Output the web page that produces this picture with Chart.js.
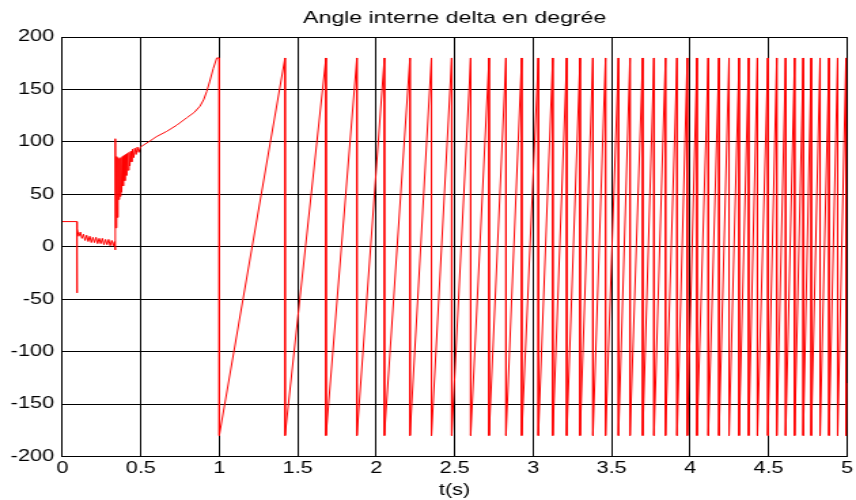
<!DOCTYPE html>
<html>
<head>
<meta charset="utf-8">
<title>Angle interne delta en degrée</title>
<script src="https://cdn.jsdelivr.net/npm/chart.js@4/dist/chart.umd.min.js"></script>
<style>
  html, body { margin: 0; padding: 0; background: #ffffff; overflow: hidden; }
  /* the figure is rendered narrow and widened horizontally, like a stretched export */
  #wrap { width: 630px; height: 500px; transform: scaleX(1.35873); transform-origin: 0 0; }
  #c { display: block; width: 630px; height: 500px; }
</style>
</head>
<body>
<div id="wrap"><canvas id="c" width="630" height="500"></canvas></div>
<script>
// Transient before loss of synchronism (t in s, delta in degrees)
const earlyT = [
  0, 0.092, 0.093, 0.095, 0.105, 0.115, 0.125, 0.135, 0.145, 0.155, 0.165, 0.175,
  0.185, 0.195, 0.205, 0.215, 0.225, 0.235, 0.245, 0.255, 0.265, 0.275, 0.285,
  0.295, 0.305, 0.315, 0.325, 0.333, 0.337, 0.338, 0.341, 0.346, 0.350, 0.355,
  0.359, 0.364, 0.368, 0.373, 0.378, 0.383, 0.388, 0.393, 0.398, 0.403, 0.408,
  0.414, 0.419, 0.425, 0.430, 0.436, 0.442, 0.448, 0.455, 0.462, 0.470, 0.478,
  0.487, 0.497, 0.55, 0.60, 0.665, 0.73, 0.793, 0.84, 0.877, 0.90, 0.92, 0.94,
  0.962, 0.984
];
const earlyDelta = [
  24, 24, -44, 17, 10, 14, 8, 12, 6, 11, 5, 10,
  4, 9, 4, 9, 3, 8, 3, 8, 2, 7, 2,
  7, 1, 6, 1, 5, -3, 103, 18, 86, 28, 85,
  45, 84, 48, 85, 52, 86, 58, 87, 63, 88, 68,
  89, 73, 90, 77, 91, 81, 93, 85, 94, 88, 95,
  90, 95, 100, 105, 110, 116, 123, 128, 134, 140, 148, 158,
  170, 180
];

// Instants where the angle wraps from +180 to -180 (pole slipping)
const wrapTimes = [
  1.000, 1.419, 1.680, 1.877, 2.052, 2.215, 2.352, 2.481, 2.602, 2.719,
  2.827, 2.927, 3.033, 3.125, 3.214, 3.299, 3.381, 3.461, 3.544, 3.617,
  3.698, 3.770, 3.843, 3.917, 3.982, 4.044, 4.116, 4.184, 4.248, 4.312,
  4.373, 4.429, 4.496, 4.552, 4.609, 4.666, 4.721, 4.772, 4.828, 4.885,
  4.940, 4.993
];
const wrapHigh = 180;   // angle just before each wrap
const wrapLow = -180;   // angle just after each wrap
const endT = 5.0;
const endDelta = -130;

const xTicks = [0, 0.5, 1, 1.5, 2, 2.5, 3, 3.5, 4, 4.5, 5];
const yTicks = [-200, -150, -100, -50, 0, 50, 100, 150, 200];

// Assemble the curve: transient, then one ramp per slip ending in a wrap
const points = earlyT.map((t, i) => ({ x: t, y: earlyDelta[i] }));
wrapTimes.forEach(t => {
  points.push({ x: t, y: wrapHigh });
  points.push({ x: t, y: wrapLow });
});
points.push({ x: endT, y: endDelta });

const FONT = "'Liberation Sans', Arial, Helvetica, sans-serif";

new Chart(document.getElementById('c'), {
  type: 'line',
  data: {
    datasets: [{
      data: points,
      borderColor: '#ff0000',
      borderWidth: 1,
      pointRadius: 0,
      tension: 0,
      fill: false
    }]
  },
  options: {
    responsive: false,
    animation: false,
    devicePixelRatio: 1,
    layout: { padding: { left: 0, right: 6.6, top: 0, bottom: 0 } },
    plugins: {
      legend: { display: false },
      tooltip: { enabled: false },
      title: {
        display: true,
        text: 'Angle interne delta en degrée',
        color: '#000',
        fullSize: false,
        font: { family: FONT, size: 17, weight: 'normal', lineHeight: 1.2 },
        padding: { top: 8, bottom: 8.6 }
      }
    },
    scales: {
      x: {
        type: 'linear',
        min: xTicks[0],
        max: xTicks[xTicks.length - 1],
        afterBuildTicks: s => { s.ticks = xTicks.map(v => ({ value: v })); },
        afterFit: s => { s.height = 43.5; },
        ticks: {
          color: '#000',
          padding: 2,
          maxRotation: 0,
          autoSkip: false,
          font: { family: FONT, size: 16, lineHeight: 1.2 },
          callback: v => String(v)
        },
        grid: { color: '#000', lineWidth: 1, drawTicks: false },
        border: { color: '#000', width: 1 },
        title: {
          display: true,
          text: 't(s)',
          color: '#000',
          font: { family: FONT, size: 16, lineHeight: 1.2 },
          padding: { top: 0, bottom: 0 }
        }
      },
      y: {
        type: 'linear',
        min: yTicks[0],
        max: yTicks[yTicks.length - 1],
        afterBuildTicks: s => { s.ticks = yTicks.map(v => ({ value: v })); },
        afterFit: s => { s.width = 45.85; },
        ticks: {
          color: '#000',
          padding: 6,
          autoSkip: false,
          font: { family: FONT, size: 16, lineHeight: 1.2 },
          callback: v => String(v)
        },
        grid: { color: '#000', lineWidth: 1, drawTicks: false },
        border: { color: '#000', width: 1 }
      }
    }
  }
});
</script>
</body>
</html>
